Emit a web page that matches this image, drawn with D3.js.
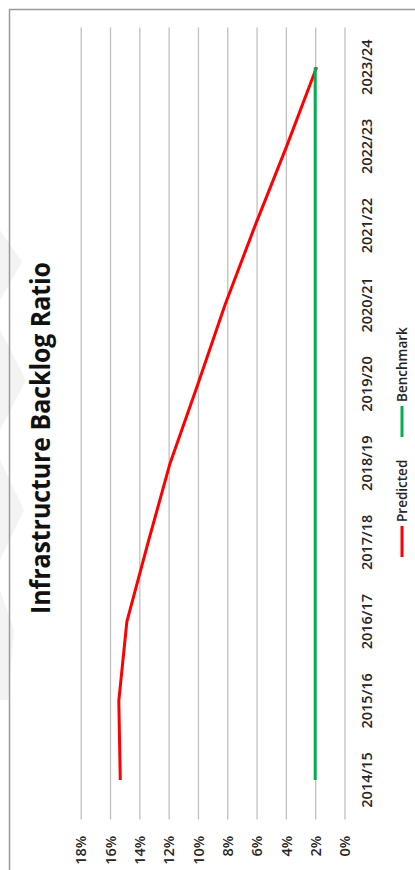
<!DOCTYPE html>
<html>
<head>
<meta charset="utf-8">
<script src="https://cdn.jsdelivr.net/npm/d3@7"></script>
<style>
  html, body { margin: 0; padding: 0; background: #fff; }
  svg { display: block; }
</style>
</head>
<body>
<svg id="chart" width="415" height="870"></svg>
<script>
// chart values
const categories = ['2014/15', '2015/16', '2016/17', '2017/18', '2018/19',
  '2019/20', '2020/21', '2021/22', '2022/23', '2023/24'];
const predicted = [0.153, 0.154, 0.1485, 0.134, 0.119, 0.100, 0.0815, 0.061, 0.0395, 0.019];
const benchmark = [0.02, 0.02, 0.02, 0.02, 0.02, 0.02, 0.02, 0.02, 0.02, 0.02];
const valueTicks = [0, 0.02, 0.04, 0.06, 0.08, 0.10, 0.12, 0.14, 0.16, 0.18];
const seriesNames = ['Predicted', 'Benchmark'];
const seriesColors = ['#ff0000', '#00b050'];

const svg = d3.select('#chart');
const font = "'Open Sans', 'DejaVu Sans', sans-serif";

// the page is rotated: values run right to left, categories bottom to top
const x = d3.scaleLinear().domain([0, 0.18]).range([344.5, 80.7]);
const y = d3.scaleBand().domain(categories).range([819.6, 27.6]);
const yc = d => y(d) + y.bandwidth() / 2;

// faint watermark at the left edge
svg.append('path')
  .attr('d', 'M0,230 L22,262 L0,300 Z M0,330 L26,380 L0,430 Z M0,460 L24,510 L0,560 Z M0,590 L14,630 L8,700 L0,700 Z')
  .attr('fill', '#f3f3f3');

// page border
svg.append('path')
  .attr('d', 'M9.5,870 L9.5,9.5 L415,9.5')
  .attr('fill', 'none')
  .attr('stroke', '#9a9a9a')
  .attr('stroke-width', 1.5);

// gridlines
const grid = svg.append('g')
  .attr('transform', 'translate(0,819.6)')
  .call(d3.axisBottom(x).tickValues(valueTicks).tickSize(-792).tickFormat(''));
grid.select('.domain').remove();
grid.selectAll('.tick line').attr('stroke', '#c0c0c0').attr('stroke-width', 1.3);

// value labels
const xAxis = svg.append('g')
  .attr('transform', 'translate(0,819.6)')
  .call(d3.axisBottom(x).tickValues(valueTicks).tickSize(0).tickFormat(d3.format('.0%')));
xAxis.select('.domain').remove();
xAxis.selectAll('text')
  .attr('x', 0).attr('y', 0).attr('dy', '0.36em')
  .attr('transform', 'translate(0,16) rotate(-90)')
  .attr('text-anchor', 'end')
  .attr('font-family', font).attr('font-size', 14.5).attr('font-weight', 600)
  .attr('fill', '#262626');

// category labels
const yAxis = svg.append('g')
  .attr('transform', 'translate(344.5,0)')
  .call(d3.axisRight(y).tickSize(0));
yAxis.select('.domain').remove();
yAxis.selectAll('text')
  .attr('x', 0).attr('y', 0).attr('dy', '0.36em')
  .attr('transform', 'translate(22,0) rotate(-90)')
  .attr('text-anchor', 'middle')
  .attr('font-family', font).attr('font-size', 14.5).attr('font-weight', 600)
  .attr('fill', '#262626');

// lines
const line = d3.line()
  .x(d => x(d.v))
  .y(d => yc(d.c));

[predicted, benchmark].forEach((vals, i) => {
  svg.append('path')
    .datum(categories.map((c, j) => ({ c: c, v: vals[j] })))
    .attr('fill', 'none')
    .attr('stroke', seriesColors[i])
    .attr('stroke-width', 3)
    .attr('stroke-linejoin', 'round')
    .attr('d', line);
});

// title
svg.append('text')
  .attr('transform', 'translate(50,438) rotate(-90)')
  .attr('text-anchor', 'middle')
  .attr('font-family', font).attr('font-size', 26).attr('font-weight', 700)
  .attr('textLength', 352).attr('lengthAdjust', 'spacingAndGlyphs')
  .attr('fill', '#111')
  .text('Infrastructure Backlog Ratio');

// legend
const legendY = [557, 437];
seriesNames.forEach((name, i) => {
  const g = svg.append('g').attr('transform', `translate(402,${legendY[i]})`);
  g.append('line')
    .attr('x1', 0).attr('x2', 0).attr('y1', 0).attr('y2', -31)
    .attr('stroke', seriesColors[i]).attr('stroke-width', 3);
  g.append('text')
    .attr('transform', 'translate(0,-35) rotate(-90)')
    .attr('dy', '0.36em')
    .attr('font-family', font).attr('font-size', 13.5).attr('font-weight', 600)
    .attr('fill', '#262626')
    .text(name);
});
</script>
</body>
</html>
